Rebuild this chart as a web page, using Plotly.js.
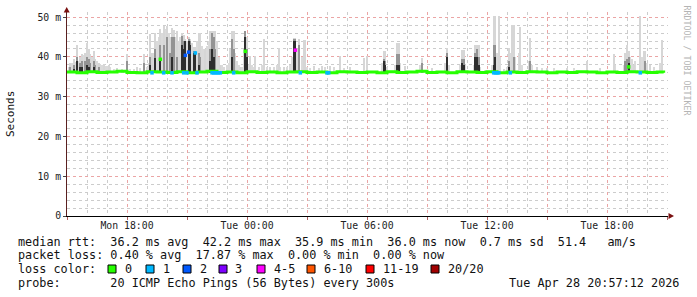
<!DOCTYPE html>
<html><head><meta charset="utf-8">
<script src="https://cdn.plot.ly/plotly-3.0.1.min.js"></script>
<style>html,body{margin:0;padding:0;background:#fff;}#chart{width:697px;height:297px;}</style>
</head><body><div id="chart"></div>
<script>
const W = 697, H = 297, ML = 67, MR = 29, MT = 12, MB = 81;

const xRange = ['2026-04-27 15:00', '2026-04-28 21:03'];
const smokeFloor = 35.9;

const spikeTimes = ['2026-04-27 15:10','2026-04-27 15:20','2026-04-27 15:30','2026-04-27 15:40','2026-04-27 15:45','2026-04-27 15:55','2026-04-27 16:00','2026-04-27 16:05','2026-04-27 16:10','2026-04-27 16:20','2026-04-27 16:25','2026-04-27 16:35','2026-04-27 16:50','2026-04-27 17:05','2026-04-27 17:30','2026-04-27 18:00','2026-04-27 18:30','2026-04-27 18:50','2026-04-27 19:10','2026-04-27 19:15','2026-04-27 19:25','2026-04-27 19:40','2026-04-27 19:50','2026-04-27 20:00','2026-04-27 20:10','2026-04-27 20:15','2026-04-27 20:20','2026-04-27 20:30','2026-04-27 20:45','2026-04-27 20:50','2026-04-27 20:55','2026-04-27 21:05','2026-04-27 21:10','2026-04-27 21:20','2026-04-27 21:25','2026-04-27 21:35','2026-04-27 21:40','2026-04-27 21:55','2026-04-27 22:10','2026-04-27 22:15','2026-04-27 22:20','2026-04-27 22:25','2026-04-27 22:40','2026-04-27 23:15','2026-04-27 23:20','2026-04-27 23:25','2026-04-27 23:40','2026-04-27 23:55','2026-04-28 00:00','2026-04-28 00:10','2026-04-28 00:25','2026-04-28 00:50','2026-04-28 01:10','2026-04-28 01:35','2026-04-28 01:50','2026-04-28 02:20','2026-04-28 02:25','2026-04-28 02:35','2026-04-28 02:50','2026-04-28 02:55','2026-04-28 03:20','2026-04-28 03:45','2026-04-28 04:10','2026-04-28 04:40','2026-04-28 05:10','2026-04-28 05:50','2026-04-28 06:00','2026-04-28 06:50','2026-04-28 06:55','2026-04-28 07:30','2026-04-28 07:35','2026-04-28 07:55','2026-04-28 08:45','2026-04-28 09:15','2026-04-28 10:00','2026-04-28 10:45','2026-04-28 10:50','2026-04-28 11:25','2026-04-28 11:30','2026-04-28 11:35','2026-04-28 11:55','2026-04-28 12:20','2026-04-28 12:25','2026-04-28 12:35','2026-04-28 12:50','2026-04-28 13:05','2026-04-28 13:15','2026-04-28 13:20','2026-04-28 13:40','2026-04-28 14:10','2026-04-28 14:30','2026-04-28 15:00','2026-04-28 16:00','2026-04-28 17:00','2026-04-28 17:40','2026-04-28 18:20','2026-04-28 18:55','2026-04-28 19:00','2026-04-28 19:05','2026-04-28 19:20','2026-04-28 19:40','2026-04-28 19:50','2026-04-28 19:55','2026-04-28 20:10','2026-04-28 20:45'];
const spikeTop = [38.5,39.5,42.9,40,40.7,41,43.5,42,40.7,41.4,39.5,38.5,38.3,38,37.3,40.7,37.5,40.7,45.7,41,46,47,47.7,47.7,45,47.2,46.9,46.6,46,45.5,44.5,45,44.5,42.5,42.5,46,46,42,46.4,46.6,46.6,46.4,38,46.6,46.6,41,37.5,46.6,45,40.2,40.2,44.5,37.5,42.3,37.5,44.8,44.8,44.5,44.2,44.2,37.7,37.7,37.7,40.2,37.5,39.7,40.2,41.6,41.4,43.5,43.5,37.7,39.7,37.3,42.3,41.7,41.7,43.1,43.1,43.1,36.8,50.2,50.2,50.2,37,42.3,48,48,47.5,44.8,37.5,37.3,37.3,38.9,37.3,40.7,41,43,41.5,38,50.2,41.5,41.5,38,44.3];
const spikeMid = [37.5,38,40,38.5,39,39,40,39.5,38.5,39,38,37.5,null,null,null,39,null,38.5,40,null,42,43,43,45,41,45,45,40,45.2,44,44,44.4,44,41.4,41.4,41,40,null,42,46,45,42,null,44.4,42,null,null,46.5,42,null,null,null,null,null,null,44.5,44.5,43,null,null,null,null,null,null,null,null,null,39.5,39,40.7,40.7,null,38.5,null,41,39.5,39.5,41,42,40,null,43.1,43.1,null,null,38.9,null,40,null,39,null,null,null,null,null,null,39,39.5,40,null,null,null,39,null,null];
const spikeDark = [null,37,38.9,37.5,37.5,null,38,37.5,null,37.5,null,null,null,null,null,null,null,null,38,null,39.7,39.7,null,null,null,40,null,null,43,42,43.9,44,43,41,41,38,null,null,39,42,40,null,null,40,null,null,null,45,40,null,null,null,null,null,null,44,44,null,null,null,null,null,null,null,null,null,null,38.9,38,38,38,null,null,null,40,38.5,38,40,40,38,null,38,40,null,null,37.5,null,null,null,null,null,null,null,null,null,null,null,null,38.5,null,null,null,null,null,null];

const fuzzTimes = ['2026-04-27 15:05','2026-04-27 15:15','2026-04-27 15:25','2026-04-27 15:35','2026-04-27 15:50','2026-04-27 16:15','2026-04-27 16:30','2026-04-27 16:40','2026-04-27 16:45','2026-04-27 16:55','2026-04-27 17:00','2026-04-27 17:10','2026-04-27 17:20','2026-04-27 17:45','2026-04-27 18:10','2026-04-27 18:20','2026-04-27 18:40','2026-04-27 19:00','2026-04-27 19:05','2026-04-27 19:20','2026-04-27 19:30','2026-04-27 19:35','2026-04-27 19:45','2026-04-27 19:55','2026-04-27 20:05','2026-04-27 20:25','2026-04-27 20:35','2026-04-27 20:40','2026-04-27 21:00','2026-04-27 21:15','2026-04-27 21:30','2026-04-27 21:45','2026-04-27 21:50','2026-04-27 22:00','2026-04-27 22:05','2026-04-27 22:30','2026-04-27 22:35','2026-04-27 22:45','2026-04-27 22:50','2026-04-27 23:00','2026-04-27 23:05','2026-04-27 23:10','2026-04-27 23:30','2026-04-27 23:35','2026-04-27 23:45','2026-04-27 23:50','2026-04-28 00:05','2026-04-28 00:15','2026-04-28 00:20','2026-04-28 00:35','2026-04-28 00:45','2026-04-28 01:00','2026-04-28 01:20','2026-04-28 01:30','2026-04-28 01:40','2026-04-28 02:00','2026-04-28 02:10','2026-04-28 02:15','2026-04-28 02:30','2026-04-28 02:45','2026-04-28 03:00','2026-04-28 03:10','2026-04-28 03:35','2026-04-28 03:55','2026-04-28 04:20','2026-04-28 04:50','2026-04-28 06:45','2026-04-28 07:00','2026-04-28 07:25','2026-04-28 07:40','2026-04-28 08:40','2026-04-28 09:55','2026-04-28 10:05','2026-04-28 10:40','2026-04-28 10:55','2026-04-28 11:20','2026-04-28 11:40','2026-04-28 12:15','2026-04-28 12:30','2026-04-28 12:40','2026-04-28 13:00','2026-04-28 13:10','2026-04-28 13:25','2026-04-28 13:35','2026-04-28 13:45','2026-04-28 14:05','2026-04-28 14:15','2026-04-28 14:45','2026-04-28 15:20','2026-04-28 16:20','2026-04-28 18:25','2026-04-28 18:50','2026-04-28 19:10','2026-04-28 19:15','2026-04-28 19:25','2026-04-28 19:45','2026-04-28 20:00','2026-04-28 20:20','2026-04-28 20:40'];
const fuzzTop = [37.5,38.5,38.8,39,40.5,40,39,38.3,38,37.8,37.8,37.5,37,37,37,37,37.2,37.5,38.5,41,44,45,46,47,46,45,44,45,44,43.5,44,42.7,42,42.7,44,44,40,38,37.5,38,38.5,42,39,38,37.5,42,38,38,37.5,37.5,38,37.5,37.5,38,37.5,37.5,38,40,42,40,37.5,37.3,37.3,37.5,37.5,37.3,38.5,37.5,38,38.5,38,38.5,38,38,38,38,37.5,38,41,40,37.5,41,40,41,38,39,38,37.3,37.2,37.2,38,38,40,39.5,39,40,38.5,37.5,38.5];

const medTimes = ['2026-04-27 15:00','2026-04-27 15:30','2026-04-27 16:00','2026-04-27 16:30','2026-04-27 17:00','2026-04-27 17:30','2026-04-27 18:00','2026-04-27 18:30','2026-04-27 19:00','2026-04-27 19:30','2026-04-27 20:00','2026-04-27 20:30','2026-04-27 21:00','2026-04-27 21:30','2026-04-27 22:00','2026-04-27 22:30','2026-04-27 23:00','2026-04-27 23:30','2026-04-28 00:00','2026-04-28 00:30','2026-04-28 01:00','2026-04-28 01:30','2026-04-28 02:00','2026-04-28 02:30','2026-04-28 03:00','2026-04-28 03:30','2026-04-28 04:00','2026-04-28 04:30','2026-04-28 05:00','2026-04-28 05:30','2026-04-28 06:00','2026-04-28 06:30','2026-04-28 07:00','2026-04-28 07:30','2026-04-28 08:00','2026-04-28 08:30','2026-04-28 09:00','2026-04-28 09:30','2026-04-28 10:00','2026-04-28 10:30','2026-04-28 11:00','2026-04-28 11:30','2026-04-28 12:00','2026-04-28 12:30','2026-04-28 13:00','2026-04-28 13:30','2026-04-28 14:00','2026-04-28 14:30','2026-04-28 15:00','2026-04-28 15:30','2026-04-28 16:00','2026-04-28 16:30','2026-04-28 17:00','2026-04-28 17:30','2026-04-28 18:00','2026-04-28 18:30','2026-04-28 19:00','2026-04-28 19:30','2026-04-28 20:00','2026-04-28 20:30','2026-04-28 20:50'];
const medVals = [36.2,36.0,36.3,36.1,36.2,36.4,36.1,36.0,36.3,36.2,36.1,36.3,36.0,36.2,36.4,36.1,36.2,36.0,36.3,36.1,36.2,36.0,36.2,36.3,36.1,36.2,36.0,36.3,36.2,36.1,36.2,36.0,36.3,36.1,36.2,36.4,36.1,36.2,36.0,36.3,36.2,36.1,36.3,36.0,36.2,36.1,36.3,36.2,36.0,36.2,36.1,36.3,36.2,36.0,36.2,36.1,36.3,36.2,36.1,36.2,36.0];

const lossTimes = ['2026-04-27 19:15','2026-04-27 19:40','2026-04-27 19:50','2026-04-27 20:15','2026-04-27 20:50','2026-04-27 20:55','2026-04-27 21:00','2026-04-27 21:05','2026-04-27 21:25','2026-04-27 21:30','2026-04-27 22:15','2026-04-27 22:20','2026-04-27 22:25','2026-04-27 22:30','2026-04-27 22:35','2026-04-27 22:40','2026-04-27 23:20','2026-04-27 23:55','2026-04-28 02:25','2026-04-28 02:40','2026-04-28 04:00','2026-04-28 04:05','2026-04-28 12:20','2026-04-28 12:25','2026-04-28 12:30','2026-04-28 12:35','2026-04-28 13:10','2026-04-28 19:05','2026-04-28 19:40'];
const lossVals = [36.0,39.4,36.0,36.0,36.0,40.4,36.0,41.2,41.0,36.0,36.0,36.0,36.0,36.0,36.0,36.0,36.0,41.4,41.7,36.0,36.0,36.0,36.0,36.0,36.0,36.0,36.0,37.5,36.0];
const lossIdx = [1,0,1,1,1,2,1,2,1,1,1,1,1,1,1,1,1,0,4,1,1,1,1,1,1,1,1,0,1];

const lossLabels = ['0','1','2','3','4-5','6-10','11-19','20/20'];
const lossColors = ['#26ff00','#00b8ff','#0059ff','#7e00ff','#ff00ff','#ff5500','#ff0000','#a10000'];

const yTickVals = [0,10,20,30,40,50];
const yTickText = ['0','10 m','20 m','30 m','40 m','50 m'];

const statLines = [
  'median rtt:  36.2 ms avg  42.2 ms max  35.9 ms min  36.0 ms now  0.7 ms sd  51.4   am/s',
  'packet loss: 0.40 % avg  17.87 % max  0.00 % min  0.00 % now',
  'loss color:',
  'probe:       20 ICMP Echo Pings (56 Bytes) every 300s'
];
const stampText = 'Tue Apr 28 20:57:12 2026';
const sideText = 'RRDTOOL / TOBI OETIKER';

const PW = W - ML - MR, PH = H - MT - MB;
const px = x => (x - ML) / PW;
const py = y => (H - MB - y) / PH;
const nb = s => s.replace(/ /g, '\u00a0');
const rel = arr => arr.map(v => v == null ? null : +(v - smokeFloor).toFixed(2));
const MONO = 'DejaVu Sans Mono';

function smoke(times, vals, color) {
  return {type: 'bar', x: times, y: rel(vals), base: smokeFloor, width: 330000,
    marker: {color: color, line: {width: 0}}, xaxis: 'x', yaxis: 'y', hoverinfo: 'skip'};
}

const traces = [
  smoke(fuzzTimes, fuzzTop, '#dadada'),
  smoke(spikeTimes, spikeTop, '#d6d6d6'),
  smoke(spikeTimes, spikeMid, '#949494'),
  smoke(spikeTimes, spikeDark, '#2e2e2e'),
  {type: 'scatter', mode: 'lines', x: medTimes, y: medVals, xaxis: 'x2', yaxis: 'y',
   line: {color: lossColors[0], width: 3, shape: 'hv'}, hoverinfo: 'skip'},
  {type: 'scatter', mode: 'markers', x: lossTimes, y: lossVals, xaxis: 'x2', yaxis: 'y',
   marker: {symbol: 'square', size: 3.5, color: lossIdx.map(i => lossColors[i]), line: {width: 0}}, hoverinfo: 'skip'}
];

const annotations = [];
const rowY = [241.5, 255.3, 269, 282.7];
const textFont = {family: MONO, size: 11.8, color: '#111'};
statLines.forEach((t, i) => annotations.push({xref: 'paper', yref: 'paper', x: px(16), y: py(rowY[i]),
  xanchor: 'left', yanchor: 'middle', showarrow: false, text: nb(t), font: textFont}));
annotations.push({xref: 'paper', yref: 'paper', x: px(681), y: py(rowY[3]), xanchor: 'right', yanchor: 'middle',
  showarrow: false, text: nb(stampText), font: textFont});
const boxX = [108, 146, 183, 219, 257, 307, 366, 431];
const shapes = [];
lossLabels.forEach((lab, i) => {
  shapes.push({type: 'rect', xref: 'paper', yref: 'paper', x0: px(boxX[i]), x1: px(boxX[i] + 8),
    y0: py(273), y1: py(265), fillcolor: lossColors[i], line: {color: '#000', width: 1}});
  annotations.push({xref: 'paper', yref: 'paper', x: px(boxX[i] + 14.5), y: py(rowY[2]), xanchor: 'left', yanchor: 'middle',
    showarrow: false, text: lab, font: textFont});
});
annotations.push({xref: 'paper', yref: 'paper', x: px(10), y: py(114), xanchor: 'center', yanchor: 'middle',
  showarrow: false, textangle: -90, text: 'Seconds', font: {family: MONO, size: 11, color: '#111'}});
annotations.push({xref: 'paper', yref: 'paper', x: px(686.5), y: py(60), xanchor: 'center', yanchor: 'middle',
  showarrow: false, textangle: 90, text: nb(sideText), font: {family: MONO, size: 8.3, color: '#b4b4b4'}});

shapes.push({type: 'path', xref: 'paper', yref: 'paper', fillcolor: '#7a1010', line: {width: 0},
  path: `M ${px(63.7)} ${py(12.5)} L ${px(69.7)} ${py(12.5)} L ${px(66.7)} ${py(7)} Z`});
shapes.push({type: 'path', xref: 'paper', yref: 'paper', fillcolor: '#7a1010', line: {width: 0},
  path: `M ${px(668.5)} ${py(213)} L ${px(668.5)} ${py(219)} L ${px(674)} ${py(216)} Z`});

const layout = {
  width: W, height: H,
  margin: {l: ML, r: MR, t: MT, b: MB, pad: 0},
  paper_bgcolor: '#fff', plot_bgcolor: '#fff',
  showlegend: false, barmode: 'overlay', bargap: 0,
  font: {family: MONO, size: 9.8, color: '#222'},
  xaxis: {type: 'date', range: xRange, dtick: 3 * 3600000, tick0: '2026-04-27 18:00',
    showgrid: true, gridcolor: '#eba5a5', griddash: 'dot', gridwidth: 1,
    minor: {dtick: 3600000, tick0: '2026-04-27 15:00', showgrid: true, gridcolor: '#cccccc', griddash: 'dot', gridwidth: 1},
    showticklabels: false, ticks: 'outside', ticklen: 3, tickcolor: '#b06060',
    showline: true, linecolor: '#000', linewidth: 1, zeroline: false, fixedrange: true},
  xaxis2: {type: 'date', overlaying: 'x', anchor: 'y', side: 'bottom', range: xRange,
    dtick: 6 * 3600000, tick0: '2026-04-27 18:00', tickformat: '%a %H:%M',
    showgrid: false, ticks: '', showline: false, zeroline: false,
    tickfont: {family: MONO, size: 9.8, color: '#222'}, ticklabelstandoff: 2},
  yaxis: {range: [0, 51.3], tickmode: 'array', tickvals: yTickVals, ticktext: yTickText,
    showgrid: true, gridcolor: '#eba5a5', griddash: 'dot', gridwidth: 1,
    minor: {tickmode: 'linear', tick0: 0, dtick: 2, showgrid: true, gridcolor: '#cccccc', griddash: 'dot', gridwidth: 1},
    ticks: 'outside', ticklen: 3, tickcolor: '#444',
    showline: true, linecolor: '#5a2020', linewidth: 1, zeroline: false,
    tickfont: {family: MONO, size: 9.8, color: '#222'}},
  annotations: annotations,
  shapes: shapes
};

Plotly.newPlot('chart', traces, layout, {staticPlot: true, displayModeBar: false});
</script>
</body></html>
